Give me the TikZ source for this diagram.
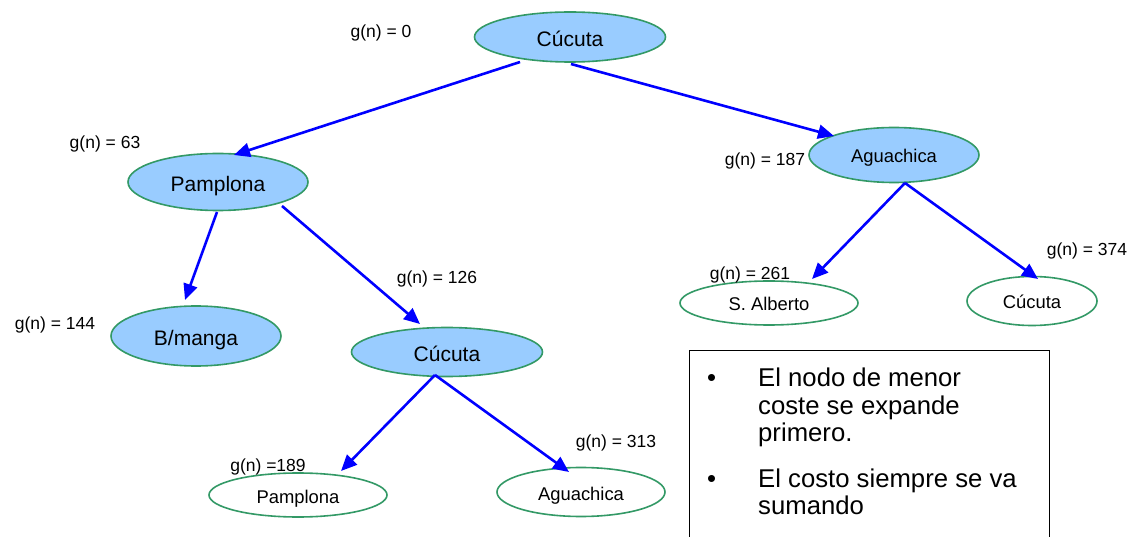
\documentclass[tikz,border=0pt]{standalone}
\usepackage{fontspec}
\setmainfont{Liberation Sans}
\usetikzlibrary{shapes.geometric,arrows.meta,calc}
\definecolor{nodefill}{HTML}{99CCFF}
\definecolor{nodeline}{HTML}{339966}
\begin{document}
\begin{tikzpicture}[x=1pt,y=-1pt,
  city/.style={ellipse,draw=nodeline,line width=1.6pt,inner sep=0pt,outer sep=0pt,text depth=0pt},
  open/.style={city,fill=nodefill},
  leaf/.style={city,fill=white},
  big/.style={font=\fontsize{21}{24}\selectfont,text height=19pt},
  small/.style={font=\fontsize{18.4}{21}\selectfont,text height=16pt},
  cost/.style={font=\fontsize{17.5}{20}\selectfont,inner sep=0pt},
  notetext/.style={font=\fontsize{25.7}{28}\selectfont,inner sep=0pt,anchor=base west},
  arr/.style={draw=blue,line width=2.6pt,-{Triangle[length=16pt,width=14pt]}}]
\useasboundingbox (0,0) rectangle (1141,537);

% search tree nodes
\node[open,big,minimum width=191pt,minimum height=50pt] (root) at (570,37) {Cúcuta};
\node[open,big,minimum width=180pt,minimum height=57pt] (pam) at (218,182) {Pamplona};
\node[open,small,minimum width=170pt,minimum height=55pt] (agua) at (894,155) {Aguachica};
\node[open,big,minimum width=170pt,minimum height=60pt] (bman) at (196,336) {B/manga};
\node[open,big,minimum width=191pt,minimum height=49pt] (cuc) at (447,352) {Cúcuta};
\node[leaf,small,minimum width=178pt,minimum height=44pt] (pamleaf) at (298,495) {Pamplona};
\node[leaf,small,minimum width=168pt,minimum height=49pt] (agualeaf) at (581,492) {Aguachica};
\node[leaf,small,minimum width=178pt,minimum height=44pt] (salb) at (769,303) {S. Alberto};
\node[leaf,small,minimum width=130pt,minimum height=49pt] (cucleaf) at (1032,301) {Cúcuta};

% accumulated costs
\node[cost] (g0) at (381,33) {g(n) = 0};
\node[cost] (g63) at (105,144) {g(n) = 63};
\node[cost] (g187) at (765,161) {g(n) = 187};
\node[cost] (g126) at (437,279) {g(n) = 126};
\node[cost] (g144) at (55,325) {g(n) = 144};
\node[cost] (g261) at (750,275) {g(n) = 261};
\node[cost] (g374) at (1087,251) {g(n) = 374};
\node[cost] (g313) at (616,443) {g(n) = 313};
\node[cost] (g189) at (268,467) {g(n) =189};

% expansions
\draw[arr] ($(root)+(-50,25)$) -- ($(pam)+(16,-27)$);
\draw[arr] ($(root)+(1,27)$) -- ($(agua)+(-60,-19)$);
\draw[arr] ($(pam)+(-1,30)$) -- ($(bman)+(-11,-36)$);
\draw[arr] ($(pam)+(64,24)$) -- ($(cuc)+(-27,-28)$);
\draw[arr] ($(cuc)+(-12,23)$) -- ($(pamleaf)+(43,-24)$);
\draw[arr] ($(cuc)+(-12,23)$) -- ($(agualeaf)+(-12,-20)$);
\draw[arr] ($(agua)+(11,28)$) -- ($(salb)+(43,-24)$);
\draw[arr] ($(agua)+(11,28)$) -- ($(cucleaf)+(6,-22)$);

% note box
\node[draw,line width=1.3pt,anchor=north west,minimum width=360pt,minimum height=220pt,inner sep=0pt] (note) at (689,350) {};
\node[notetext] (u1) at (707,387) {•};
\node[notetext] (l1) at (758,387) {El nodo de menor};
\node[notetext] (l2) at (758,414) {coste se expande};
\node[notetext] (l3) at (758,441) {primero.};
\node[notetext] (u2) at (707,487) {•};
\node[notetext] (l4) at (758,487) {El costo siempre se va};
\node[notetext] (l5) at (758,514) {sumando};
\end{tikzpicture}
\end{document}
